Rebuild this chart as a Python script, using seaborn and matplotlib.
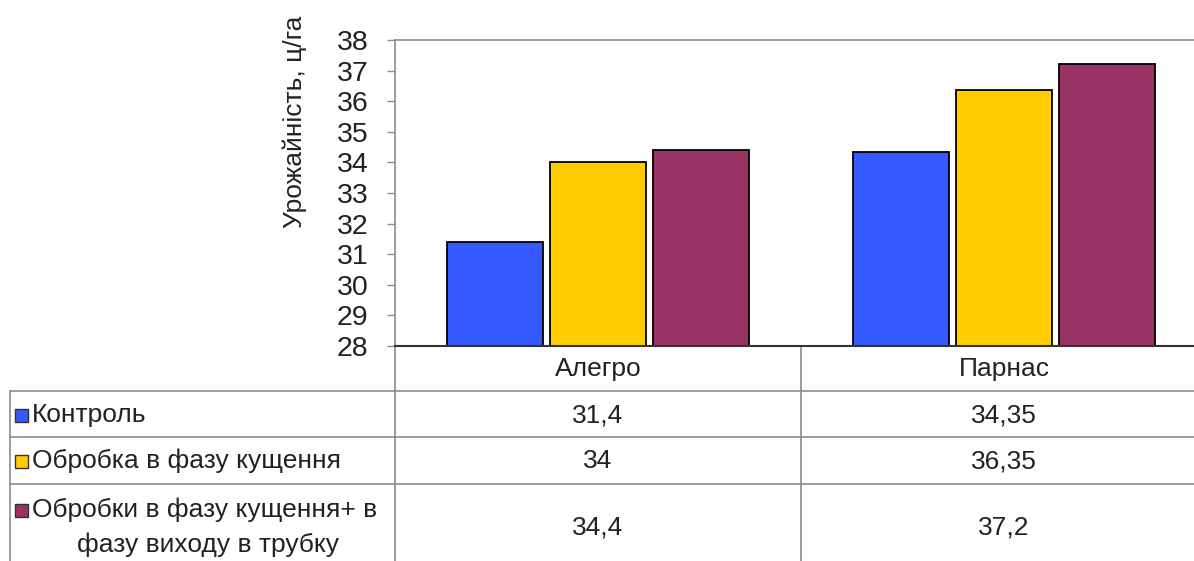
import numpy as np
import pandas as pd
import matplotlib
matplotlib.use("Agg")
import matplotlib.pyplot as plt
import matplotlib.transforms as mtrans
from matplotlib.patches import Rectangle
import seaborn as sns

# data
varieties = ["Алегро", "Парнас"]
treatments = ["Контроль", "Обробка в фазу кущення", "Обробки в фазу кущення+ в\nфазу виходу в трубку"]
control = [31.4, 34.35]
tillering = [34.0, 36.35]
tillering_tube = [34.4, 37.2]
colors = ["#3359FF", "#FFCC00", "#993366"]
y_ticks = list(range(28, 39))

values = [control, tillering, tillering_tube]
df = pd.DataFrame({
    "Сорт": varieties * 3,
    "Варіант": [t for t in treatments for _ in varieties],
    "Урожайність": [v for row in values for v in row],
})

sns.set_style("white")
plt.rcParams["font.family"] = ["Liberation Sans", "DejaVu Sans"]
text_col = "#222222"
line_col = "#8c8c8c"

W, H = 1194, 561
fig = plt.figure(figsize=(W / 100, H / 100), dpi=100)

# overlay for data table (pixel coordinates, y downward)
tab = fig.add_axes([0, 0, 1, 1])
tab.set_xlim(0, W)
tab.set_ylim(H, 0)
tab.axis("off")

ax = fig.add_axes([395 / W, (H - 346) / H, (1207 - 395) / W, (346 - 40) / H])
sns.barplot(data=df, x="Сорт", y="Урожайність", hue="Варіант", palette=colors, saturation=1,
            edgecolor="black", linewidth=1.3, width=0.76, gap=0.06, ax=ax, legend=False)
ax.set_ylim(28, 38)
ax.set_xlim(-0.5, 1.5)
ax.set_yticks(y_ticks)
ax.set_yticklabels([str(t) for t in y_ticks], fontsize=20.5, color=text_col)
ax.tick_params(axis="y", left=True, length=6, width=1, color=line_col, pad=13)
ax.tick_params(axis="x", bottom=False, labelbottom=False)
ax.set_xlabel("")
ax.set_ylabel("")
for side in ["top", "left", "right"]:
    ax.spines[side].set_color(line_col)
    ax.spines[side].set_linewidth(1.2)
ax.spines["bottom"].set_color("#333333")
ax.spines["bottom"].set_linewidth(1.5)

fig.text(295 / W, 1 - 122 / H, "Урожайність, ц/га", rotation=90, fontsize=19,
         color=text_col, ha="center", va="center")

# data table below the axis
fig.canvas.draw()
bt = mtrans.blended_transform_factory(ax.transData, tab.transData)
row_lines = [391, 437, 484]
row_centers = [415, 461, 527]
table_bottom = H
left_edge = 10

for xb in [-0.5, 0.5]:
    tab.plot([xb, xb], [346, table_bottom], color=line_col, lw=1.2, transform=bt, clip_on=False)
for yl in row_lines:
    tab.plot([left_edge, W], [yl, yl], color=line_col, lw=1.2)
tab.plot([left_edge, left_edge], [row_lines[0], table_bottom], color=line_col, lw=1.2)

for i, name in enumerate(varieties):
    tab.text(i, 369, name, transform=bt, ha="center", va="center", fontsize=19, color=text_col)

for r, (name, row, col) in enumerate(zip(treatments, values, colors)):
    yc = row_centers[r]
    first_line = 510 if "\n" in name else yc
    tab.add_patch(Rectangle((15, first_line - 6.5), 13, 13, facecolor=col, edgecolor="#333333", lw=1))
    if "\n" in name:
        l1, l2 = name.split("\n")
        tab.text(32, 510, l1, ha="left", va="center", fontsize=19, color=text_col)
        tab.text(208, 545, l2, ha="center", va="center", fontsize=19, color=text_col)
    else:
        tab.text(32, yc, name, ha="left", va="center", fontsize=19, color=text_col)
    for i, v in enumerate(row):
        tab.text(i, yc, f"{v:g}".replace(".", ","), transform=bt, ha="center", va="center",
                 fontsize=19, color=text_col)

fig.savefig("out.png", dpi=100)
